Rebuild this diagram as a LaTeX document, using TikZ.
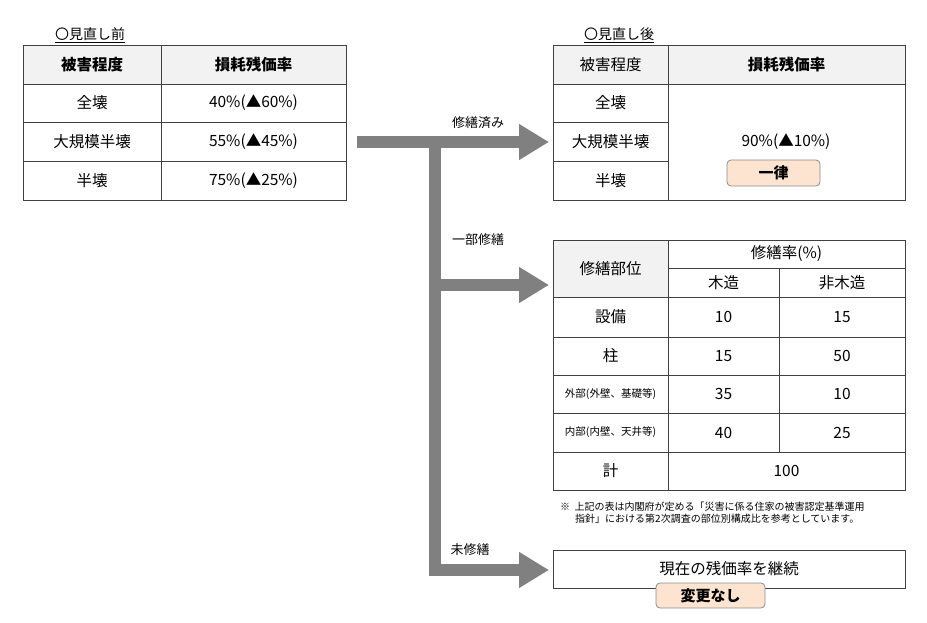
\documentclass[tikz,border=0pt]{standalone}
\usepackage{fontspec}
\setmainfont{Noto Sans CJK JP}
\usetikzlibrary{arrows.meta}
\definecolor{hdr}{HTML}{F2F2F2}
\definecolor{peach}{HTML}{FCE4D0}
\definecolor{arr}{HTML}{808080}
\tikzset{
 cellbox/.style={draw=black!75,line width=0.7pt,inner sep=0pt,font=\fontsize{15.5}{17}\selectfont},
 hcell/.style={cellbox,fill=hdr},
 badge/.style={draw=black!45,fill=peach,rounded corners=4pt,line width=0.8pt,inner sep=0pt,font=\fontsize{15}{17}\selectfont\bfseries},
 flow/.style={draw=arr,line width=12pt},
 flowarr/.style={flow,-{Triangle[width=34pt,length=30pt]}},
 lbl/.style={font=\fontsize{13}{15}\selectfont},
 title/.style={font=\fontsize{14}{16}\selectfont,inner sep=1pt},
}
\newcommand{\cellat}[7]{\node[#7,minimum width={#4-#2},minimum height={#5-#3}] (#1) at ({(#2+#4)/2},{(#3+#5)/2}) {#6};}
\begin{document}
\begin{tikzpicture}[x=1pt,y=-1pt]
\useasboundingbox (0,0) rectangle (927,623);
% table 1
\node[title] (t1) at (90,35) {\underline{〇見直し前}};
\cellat{a11}{23}{45}{161}{84}{\textbf{被害程度}}{hcell}
\cellat{a12}{161}{45}{346}{84}{\textbf{損耗残価率}}{hcell}
\cellat{a21}{23}{84}{161}{122}{全壊}{cellbox}
\cellat{a22}{161}{84}{346}{122}{40\%(▲60\%)}{cellbox}
\cellat{a31}{23}{122}{161}{161}{大規模半壊}{cellbox}
\cellat{a32}{161}{122}{346}{161}{55\%(▲45\%)}{cellbox}
\cellat{a41}{23}{161}{161}{200}{半壊}{cellbox}
\cellat{a42}{161}{161}{346}{200}{75\%(▲25\%)}{cellbox}
% table 2
\node[title] (t2) at (619,35) {\underline{〇見直し後}};
\cellat{b11}{553}{45}{668}{84}{被害程度}{hcell}
\cellat{b12}{668}{45}{905}{84}{\textbf{損耗残価率}}{hcell}
\cellat{b21}{553}{84}{668}{122}{全壊}{cellbox}
\cellat{b31}{553}{122}{668}{161}{大規模半壊}{cellbox}
\cellat{b41}{553}{161}{668}{200}{半壊}{cellbox}
\cellat{b22}{668}{84}{905}{200}{}{cellbox}
\node[font=\fontsize{15.5}{17}\selectfont] (b2t) at (786,142) {90\%(▲10\%)};
\cellat{b2b}{727}{160}{820}{186}{一律}{badge}
% table 3
\cellat{c11}{553}{240}{668}{297}{修繕部位}{hcell}
\cellat{c12}{668}{240}{905}{268}{修繕率(\%)}{cellbox}
\cellat{c22}{668}{268}{779}{297}{木造}{cellbox}
\cellat{c23}{779}{268}{905}{297}{非木造}{cellbox}
\cellat{c31}{553}{297}{668}{337}{設備}{cellbox}
\cellat{c32}{668}{297}{779}{337}{10}{cellbox}
\cellat{c33}{779}{297}{905}{337}{15}{cellbox}
\cellat{c41}{553}{337}{668}{375}{柱}{cellbox}
\cellat{c42}{668}{337}{779}{375}{15}{cellbox}
\cellat{c43}{779}{337}{905}{375}{50}{cellbox}
\cellat{c51}{553}{375}{668}{413}{\fontsize{10.5}{12}\selectfont 外部(外壁、基礎等)}{cellbox}
\cellat{c52}{668}{375}{779}{413}{35}{cellbox}
\cellat{c53}{779}{375}{905}{413}{10}{cellbox}
\cellat{c61}{553}{413}{668}{452}{\fontsize{10.5}{12}\selectfont 内部(内壁、天井等)}{cellbox}
\cellat{c62}{668}{413}{779}{452}{40}{cellbox}
\cellat{c63}{779}{413}{905}{452}{25}{cellbox}
\cellat{c71}{553}{452}{668}{490}{計}{cellbox}
\cellat{c72}{668}{452}{905}{490}{100}{cellbox}
\node[anchor=north west,align=left,font=\fontsize{10}{12}\selectfont,inner sep=0pt] (note) at (560,502)
 {※\ \ 上記の表は内閣府が定める「災害に係る住家の被害認定基準運用\\\hspace*{1.5em}指針」における第2次調査の部位別構成比を参考としています。};
% box 4
\cellat{d1}{553}{550}{905}{588}{現在の残価率を継続}{cellbox}
\cellat{d2}{656}{583}{765}{608}{変更なし}{badge}
% arrows
\coordinate (s) at (357,142);
\coordinate (j1) at (435,142);
\coordinate (j2) at (435,285);
\coordinate (j3) at (435,570);
\coordinate (e1) at (549,142);
\coordinate (e2) at (549,285);
\coordinate (e3) at (549,570);
\draw[flow] (j1) -- ([yshift=6pt]j3);
\draw[flowarr] (s) -- (e1);
\draw[flowarr] (j2) -- (e2);
\draw[flowarr] ([xshift=-6pt]j3) -- (e3);
\node[lbl] (l1) at (478,123) {修繕済み};
\node[lbl] (l2) at (478,240) {一部修繕};
\node[lbl] (l3) at (470,550) {未修繕};
\end{tikzpicture}
\end{document}
